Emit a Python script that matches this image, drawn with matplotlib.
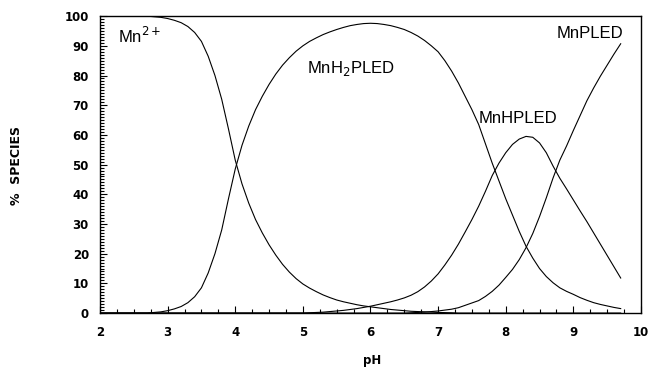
"""Species distribution of Mn(II)-PLED complexes versus pH."""

import matplotlib
matplotlib.use("Agg")
import matplotlib.pyplot as plt
import numpy as np
from matplotlib.ticker import MultipleLocator

# --- Data (percent of total Mn), pH 2.0 .. 9.7 every 0.1 ---

ph = np.round(np.arange(2.0, 9.75, 0.1), 1)

mn_free = [
    100, 100, 100, 100, 100, 100, 100, 100, 99.8, 99.6,
    99.2, 98.6, 97.8, 96.5, 94.5, 91.5, 86.5, 80, 72, 62,
    51.5, 43.5, 37, 31.5, 27, 23, 19.5, 16.4, 13.8, 11.6,
    9.8, 8.4, 7.2, 6.1, 5.2, 4.4, 3.8, 3.3, 2.8, 2.4,
    2.1, 1.8, 1.5, 1.2, 1.0, 0.8, 0.6, 0.5, 0.4, 0.3,
    0.2, 0.15, 0.1, 0, 0, 0, 0, 0, 0, 0,
    0, 0, 0, 0, 0, 0, 0, 0, 0, 0,
    0, 0, 0, 0, 0, 0, 0, 0,
]

mn_h2pled = [
    0, 0, 0, 0, 0, 0, 0, 0, 0.2, 0.4,
    0.8, 1.4, 2.2, 3.5, 5.5, 8.5, 13.5, 20, 28, 38.5,
    48.5, 56.5, 63, 68.5, 73, 77, 80.5, 83.5, 86, 88.2,
    90, 91.5, 92.7, 93.8, 94.7, 95.5, 96.2, 96.8, 97.2, 97.5,
    97.6, 97.5, 97.2, 96.8, 96.2, 95.5, 94.5, 93.3, 91.8, 90,
    88, 85, 81.5, 77.5, 73, 68.5, 63.5, 57, 50.5, 44.5,
    38.5, 33, 27.5, 22.5, 18.5, 15, 12.3, 10.2, 8.5, 7.3,
    6.3, 5.2, 4.3, 3.5, 2.9, 2.4, 1.9, 1.5,
]

mn_hpled = [
    0, 0, 0, 0, 0, 0, 0, 0, 0, 0,
    0, 0, 0, 0, 0, 0, 0, 0, 0, 0,
    0, 0, 0, 0, 0, 0, 0, 0, 0, 0,
    0, 0.1, 0.2, 0.3, 0.5, 0.7, 0.9, 1.2, 1.5, 1.9,
    2.3, 2.8, 3.3, 3.8, 4.4, 5.1, 6, 7.2, 8.8, 10.8,
    13.2, 16.2, 19.5, 23.2, 27.3, 31.5, 36, 41, 46.3, 50.5,
    54, 56.8, 58.6, 59.5, 59.2, 57.3, 54, 49.5, 45.4, 41.8,
    38.1, 34.4, 30.8, 27, 23.2, 19.4, 15.6, 11.8,
]

mn_pled = [
    0, 0, 0, 0, 0, 0, 0, 0, 0, 0,
    0, 0, 0, 0, 0, 0, 0, 0, 0, 0,
    0, 0, 0, 0, 0, 0, 0, 0, 0, 0,
    0, 0, 0, 0, 0, 0, 0, 0, 0, 0,
    0, 0, 0, 0, 0, 0, 0.1, 0.2, 0.3, 0.5,
    0.7, 1.0, 1.3, 1.8, 2.6, 3.4, 4.2, 5.6, 7.3, 9.4,
    12, 14.7, 18, 22, 26.8, 32.5, 38.8, 45.5, 51.5, 56.3,
    61.5, 66.5, 71.5, 75.8, 79.8, 83.5, 87.2, 90.7,
]

species = [mn_free, mn_h2pled, mn_hpled, mn_pled]

# label text and baseline anchor (pH, %)
labels = ["Mn$^{2+}$", "MnH$_2$PLED", "MnHPLED", "MnPLED"]
label_pos = [(2.27, 90.8), (5.06, 80.9), (7.6, 63.9), (8.76, 92.8)]

fig = plt.figure(figsize=(6.51, 3.67), dpi=100)
ax = fig.add_axes([0.1536, 0.147, 0.8310, 0.809])

for series in species:
    ax.plot(ph, series, color="black", linewidth=0.8)

for text, (x, y) in zip(labels, label_pos):
    ax.text(x, y, text, fontsize=12, ha="left", va="baseline",
            family="Liberation Sans")

ax.set_xlim(2, 10)
ax.set_ylim(0, 100)
ax.xaxis.set_major_locator(MultipleLocator(1))
ax.xaxis.set_minor_locator(MultipleLocator(0.25))
ax.yaxis.set_major_locator(MultipleLocator(10))
ax.yaxis.set_minor_locator(MultipleLocator(1))
ax.tick_params(which="both", direction="in", width=0.8, labelsize=8.5)
ax.tick_params(which="major", length=5)
ax.tick_params(which="minor", length=3)
ax.tick_params(axis="x", which="major", pad=9)
ax.tick_params(axis="y", which="major", pad=8)
for lab in ax.get_xticklabels() + ax.get_yticklabels():
    lab.set_fontweight("bold")

for sp in ax.spines.values():
    sp.set_linewidth(1.0)

# axis titles placed in figure coords to match the reference spacing
fig.text(0.571, 0.018, "pH", fontsize=8.5, fontweight="bold",
         ha="center", va="center")
fig.text(0.025, 0.55, "%  SPECIES", rotation=90, fontsize=9,
         fontweight="bold", ha="center", va="center")

fig.savefig("out.png", dpi=100)
plt.close(fig)
